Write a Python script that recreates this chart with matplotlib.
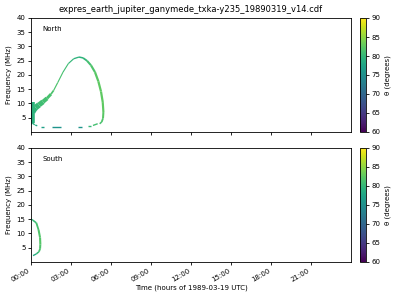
import matplotlib
matplotlib.use('Agg')
import matplotlib.pyplot as plt
import numpy as np
from matplotlib.collections import LineCollection
from matplotlib.colors import Normalize

title = 'expres_earth_jupiter_ganymede_txka-y235_19890319_v14.cdf'
tick_hours = [0, 3, 6, 9, 12, 15, 18, 21]
tick_labels = ['00:00', '03:00', '06:00', '09:00', '12:00', '15:00', '18:00', '21:00']

# North: main arc (hours, MHz, theta deg, band width pt)
north_t = [0.1, 0.2, 0.35, 0.6, 0.9, 1.2, 1.5, 1.7, 2.0, 2.4, 2.8, 3.2, 3.6, 3.9,
           4.2, 4.5, 4.8, 5.05, 5.25, 5.38, 5.43, 5.4, 5.3, 5.15]
north_f = [7.0, 7.9, 8.6, 9.5, 10.6, 11.8, 13.3, 14.6, 17.3, 21.0, 24.0, 25.7, 26.3, 26.0,
           25.0, 23.4, 21.0, 17.8, 14.2, 10.5, 7.0, 4.8, 3.5, 2.9]
north_theta = [79, 79.5, 80, 80.5, 81, 81, 81.5, 81.5, 81.5, 81, 80.5, 79.5, 79, 79.5,
               80.5, 81.5, 82, 82.5, 82.5, 82.5, 82.5, 82, 81.5, 81]
north_w = [4.5, 4.5, 4.3, 4.0, 3.4, 2.6, 1.6, 0.9, 0.8, 0.8, 0.8, 0.9, 1.0, 1.2,
           1.4, 1.5, 1.6, 1.6, 1.6, 1.6, 1.5, 1.4, 1.2, 1.0]

# North: low-frequency column at start and sparse dashes along the bottom
col_t = [0.12, 0.12]
col_f = [3.3, 10.6]
col_theta = 79.5
edge_t = [0.03, 0.03]
edge_f = [2.8, 10.4]
edge_theta = 75.0
dash_t0 = [0.1, 0.32, 0.73, 1.58, 3.53, 4.28, 4.65]
dash_t1 = [0.28, 0.47, 0.98, 2.28, 3.83, 4.53, 5.0]
dash_f0 = [3.2, 2.4, 1.9, 1.6, 1.7, 2.0, 2.3]
dash_f1 = [2.5, 2.2, 1.9, 1.6, 1.7, 2.0, 2.9]
dash_theta = [79, 78, 77, 75.5, 75.5, 80, 81]

# South
south_t = [0.0, 0.15, 0.4, 0.57, 0.68, 0.7, 0.68, 0.6, 0.4, 0.15]
south_f = [15.0, 14.6, 13.7, 11.2, 8.5, 6.2, 4.6, 3.6, 2.8, 2.2]
south_theta = [79, 80, 81, 81.5, 82, 82, 81.5, 81, 79.5, 77.5]
south_w = [1.0, 1.1, 1.2, 1.4, 1.5, 1.5, 1.4, 1.2, 1.0, 1.0]

norm = Normalize(vmin=60, vmax=90)
cmap = 'viridis'


def path_segments(t, f):
    pts = np.column_stack([t, f])
    return np.stack([pts[:-1], pts[1:]], axis=1)


def seg_mean(v):
    v = np.asarray(v, dtype=float)
    return (v[:-1] + v[1:]) / 2


fig = plt.figure(figsize=(4, 3), dpi=100)
ax1 = fig.add_axes([0.0775, 0.56, 0.8, 0.38])
ax2 = fig.add_axes([0.0775, 0.127, 0.8, 0.38])
cax1 = fig.add_axes([0.9, 0.56, 0.015, 0.38])
cax2 = fig.add_axes([0.9, 0.127, 0.015, 0.38])

# North panel
ax1.plot(col_t, col_f, color=plt.get_cmap(cmap)(norm(col_theta)), lw=2.6,
         solid_capstyle='butt')
ax1.plot(edge_t, edge_f, color=plt.get_cmap(cmap)(norm(edge_theta)), lw=1.0,
         solid_capstyle='butt')
lc = LineCollection(path_segments(north_t, north_f), cmap=cmap, norm=norm,
                    linewidths=seg_mean(north_w), capstyle='butt', joinstyle='round')
lc.set_array(seg_mean(north_theta))
ax1.add_collection(lc)
dash_segs = [[(a, c), (b, d)] for a, b, c, d in zip(dash_t0, dash_t1, dash_f0, dash_f1)]
dc = LineCollection(dash_segs, cmap=cmap, norm=norm, linewidths=1.0, capstyle='butt')
dc.set_array(np.array(dash_theta))
ax1.add_collection(dc)
ax1.text(0.037, 0.9, 'North', transform=ax1.transAxes, fontsize=5, va='center')

# South panel
sc = LineCollection(path_segments(south_t, south_f), cmap=cmap, norm=norm,
                    linewidths=seg_mean(south_w), capstyle='butt', joinstyle='round')
sc.set_array(seg_mean(south_theta))
ax2.add_collection(sc)
ax2.text(0.037, 0.9, 'South', transform=ax2.transAxes, fontsize=5, va='center')

for ax in (ax1, ax2):
    ax.set_xlim(0, 24)
    ax.set_ylim(0, 40)
    ax.set_yticks([5, 10, 15, 20, 25, 30, 35, 40])
    ax.set_xticks(tick_hours)
    ax.set_ylabel('Frequency (MHz)', fontsize=5, labelpad=3)
    ax.tick_params(labelsize=5, length=2.5, width=0.6, pad=1.5)
    for s in ax.spines.values():
        s.set_linewidth(0.6)

ax1.set_xticklabels([])
ax2.set_xticklabels(tick_labels, rotation=30, ha='right')
ax2.set_xlabel('Time (hours of 1989-03-19 UTC)', fontsize=5, labelpad=1)
ax1.set_title(title, fontsize=6, pad=4)

for mappable, cax in ((lc, cax1), (sc, cax2)):
    cb = fig.colorbar(mappable, cax=cax)
    cb.set_ticks([60, 65, 70, 75, 80, 85, 90])
    cb.ax.tick_params(labelsize=5, length=2.5, width=0.6, pad=1.5)
    cb.set_label('θ (degrees)', fontsize=5, labelpad=3)
    cb.outline.set_linewidth(0.6)

fig.savefig('out.png', dpi=100)
